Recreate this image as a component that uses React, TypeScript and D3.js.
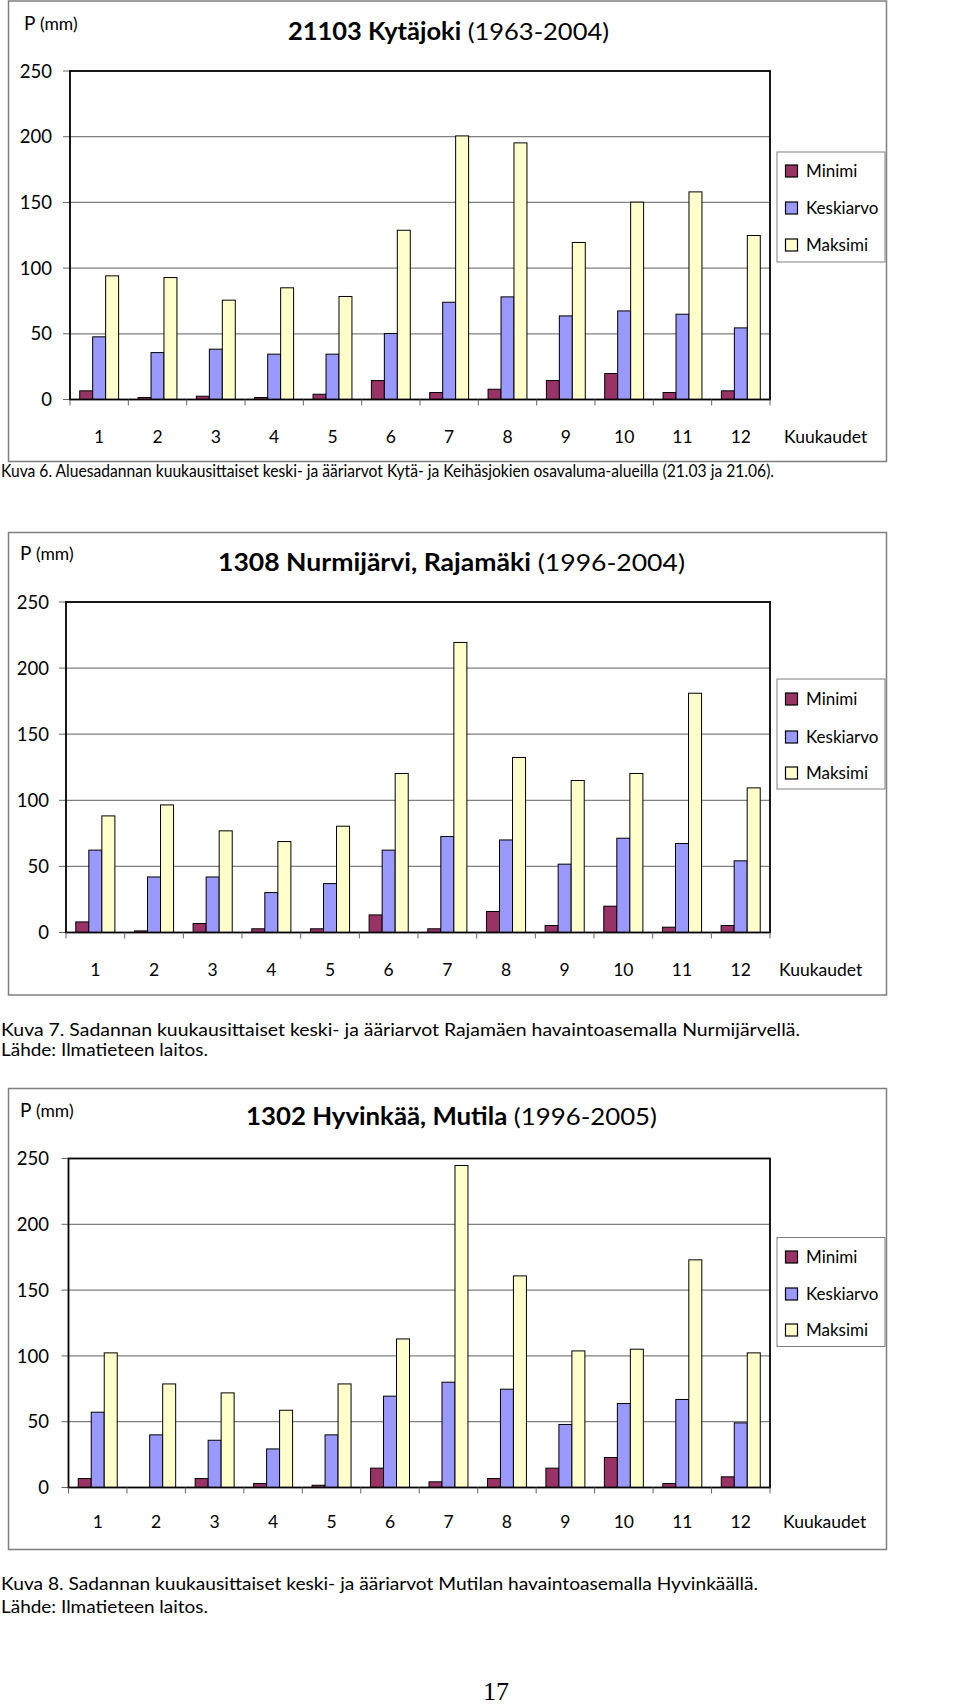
import React from "react";
import * as d3 from "d3";

// ---------- data ----------
const months = ["1", "2", "3", "4", "5", "6", "7", "8", "9", "10", "11", "12"];
const seriesNames = ["Minimi", "Keskiarvo", "Maksimi"];
const seriesColors = ["#993366", "#9999FF", "#FFFFCC"];
const yTicks = [0, 50, 100, 150, 200, 250];

const kytajokiMin = [6.6, 1.5, 2.5, 1.5, 4, 14.4, 5.3, 7.8, 14.4, 19.8, 5.3, 6.6];
const kytajokiMean = [47.7, 35.7, 38.3, 34.5, 34.5, 50.2, 74, 78.1, 63.6, 67.4, 64.9, 54.5];
const kytajokiMax = [94.1, 92.8, 75.6, 85, 78.4, 128.8, 200.6, 195.3, 119.5, 150.2, 158, 124.8];

const rajamakiMin = [8, 1.2, 6.8, 2.8, 2.8, 13.3, 2.8, 15.9, 5.3, 19.9, 4, 5.3];
const rajamakiMean = [62.3, 42, 42, 30.2, 37, 62.3, 72.6, 70, 51.7, 71.3, 67.3, 54.2];
const rajamakiMax = [88.2, 96.5, 76.9, 68.8, 80.4, 120.3, 219.4, 132.4, 115, 120.3, 181, 109.4];

const mutilaMin = [6.8, 0, 6.8, 3, 1.7, 14.7, 4.3, 6.8, 14.7, 22.8, 3, 8.1];
const mutilaMean = [57.2, 40, 35.9, 29.3, 40, 69.4, 80, 74.7, 47.9, 63.8, 66.9, 49.1];
const mutilaMax = [102.3, 78.7, 71.9, 58.7, 78.7, 112.9, 244.7, 160.8, 103.8, 105.1, 173, 102.3];

const titleBold = ["21103 Kytäjoki", "1308 Nurmijärvi, Rajamäki", "1302 Hyvinkää, Mutila"];
const titlePeriod = ["(1963-2004)", "(1996-2004)", "(1996-2005)"];
const yUnitMain = "P";
const yUnitSmall = "(mm)";
const xAxisName = "Kuukaudet";

const captions = [
  ["Kuva 6. Aluesadannan kuukausittaiset keski- ja ääriarvot Kytä- ja Keihäsjokien osavaluma-alueilla (21.03 ja 21.06)."],
  ["Kuva 7. Sadannan kuukausittaiset keski- ja ääriarvot Rajamäen havaintoasemalla Nurmijärvellä.", "Lähde: Ilmatieteen laitos."],
  ["Kuva 8. Sadannan kuukausittaiset keski- ja ääriarvot Mutilan havaintoasemalla Hyvinkäällä.", "Lähde: Ilmatieteen laitos."],
];
const pageNumber = "17";

// ---------- layout ----------
const FONT = "Lato, 'Open Sans', sans-serif";

type Layout = {
  frame: { x: number; y: number; w: number; h: number };
  plot: { x: number; y: number; w: number; h: number };
  yLabelRight: number;
  unitX: number;
  unitBase: number;
  titleX: number;
  titleW: number;
  titleBase: number;
  legend: { x: number; y: number; w: number; h: number; rows: number[] };
  xLabelY: number;
  axisNameX: number;
  captionBase: number[];
  captionW: number[];
  captionSize: number;
};

const layouts: Layout[] = [
  {
    frame: { x: 8.5, y: 1, w: 878, h: 460.5 },
    plot: { x: 70, y: 71, w: 700, h: 328.5 },
    yLabelRight: 52,
    unitX: 24,
    unitBase: 30,
    titleX: 288,
    titleW: 321,
    titleBase: 40,
    legend: { x: 777, y: 152, w: 108, h: 110, rows: [171, 208, 245] },
    xLabelY: 437,
    axisNameX: 784,
    captionBase: [477],
    captionW: [773],
    captionSize: 16.5,
  },
  {
    frame: { x: 8.5, y: 532.5, w: 878, h: 462.5 },
    plot: { x: 66, y: 602, w: 704, h: 330.5 },
    yLabelRight: 49,
    unitX: 20,
    unitBase: 560,
    titleX: 218,
    titleW: 467,
    titleBase: 571,
    legend: { x: 777, y: 679, w: 108, h: 110, rows: [699, 737, 773] },
    xLabelY: 970,
    axisNameX: 779,
    captionBase: [1035.5, 1056],
    captionW: [799, 207],
    captionSize: 17,
  },
  {
    frame: { x: 8.5, y: 1088.5, w: 878, h: 461 },
    plot: { x: 68.5, y: 1158.5, w: 701.5, h: 329 },
    yLabelRight: 49,
    unitX: 20,
    unitBase: 1117,
    titleX: 246,
    titleW: 411,
    titleBase: 1125,
    legend: { x: 777, y: 1237.5, w: 108, h: 109, rows: [1257, 1294, 1330] },
    xLabelY: 1522,
    axisNameX: 783,
    captionBase: [1589.5, 1613],
    captionW: [757, 207],
    captionSize: 17,
  },
];

const chartSeries = [
  [kytajokiMin, kytajokiMean, kytajokiMax],
  [rajamakiMin, rajamakiMean, rajamakiMax],
  [mutilaMin, mutilaMean, mutilaMax],
];

function Chart({ idx }: { idx: number }) {
  const L = layouts[idx];
  const series = chartSeries[idx];
  const { plot } = L;
  const y = d3.scaleLinear().domain([0, 250]).range([plot.y + plot.h, plot.y]);
  const x0 = d3
    .scaleBand<string>()
    .domain(months)
    .range([plot.x, plot.x + plot.w])
    .paddingInner(1 / 3)
    .paddingOuter(1 / 6);
  const x1 = d3.scaleBand<string>().domain(seriesNames).range([0, x0.bandwidth()]);
  const step = x0.step();
  const bottom = plot.y + plot.h;

  return (
    <g>
      {/* outer frame */}
      <rect x={L.frame.x} y={L.frame.y} width={L.frame.w} height={L.frame.h} fill="#fff" stroke="#7f7f7f" strokeWidth={1.5} />
      {/* unit */}
      <text x={L.unitX} y={L.unitBase} fontFamily={FONT} fontSize={19} fill="#000">
        {yUnitMain}
        <tspan fontSize={17.5}> {yUnitSmall}</tspan>
      </text>
      {/* title */}
      <text
        x={L.titleX}
        y={L.titleBase}
        textLength={L.titleW}
        lengthAdjust="spacingAndGlyphs"
        fontFamily={FONT}
        fontSize={24}
        fill="#000"
      >
        <tspan fontWeight="bold">{titleBold[idx]}</tspan>
        <tspan> {titlePeriod[idx]}</tspan>
      </text>
      {/* gridlines */}
      {yTicks.filter((t) => t > 0 && t < 250).map((t) => (
        <line key={"g" + t} x1={plot.x} x2={plot.x + plot.w} y1={y(t)} y2={y(t)} stroke="#808080" strokeWidth={1.2} />
      ))}
      {/* y ticks and labels */}
      {yTicks.map((t) => (
        <g key={"yt" + t}>
          <line x1={plot.x - 7} x2={plot.x} y1={y(t)} y2={y(t)} stroke="#666" strokeWidth={1} />
          <text x={L.yLabelRight} y={y(t)} dy="0.36em" textAnchor="end" fontFamily={FONT} fontSize={18.5} fill="#000">
            {t}
          </text>
        </g>
      ))}
      {/* bars */}
      {months.map((m, i) => (
        <g key={"m" + m}>
          {seriesNames.map((s, si) => {
            const v = series[si][i];
            if (!(v > 0)) return null;
            return (
              <rect
                key={s}
                x={(x0(m) as number) + (x1(s) as number)}
                y={y(v)}
                width={x1.bandwidth()}
                height={bottom - y(v)}
                fill={seriesColors[si]}
                stroke="#000"
                strokeWidth={1}
              />
            );
          })}
        </g>
      ))}
      {/* plot border */}
      <rect x={plot.x} y={plot.y} width={plot.w} height={plot.h} fill="none" stroke="#000" strokeWidth={1.8} />
      {/* x ticks */}
      {d3.range(months.length + 1).map((k) => (
        <line key={"xt" + k} x1={plot.x + k * step} x2={plot.x + k * step} y1={bottom} y2={bottom + 6} stroke="#666" strokeWidth={1} />
      ))}
      {/* x labels */}
      {months.map((m) => (
        <text key={"xl" + m} x={(x0(m) as number) + x0.bandwidth() / 2} y={L.xLabelY} dy="0.36em" textAnchor="middle" fontFamily={FONT} fontSize={17.5} fill="#000">
          {m}
        </text>
      ))}
      <text x={L.axisNameX} y={L.xLabelY} dy="0.36em" fontFamily={FONT} fontSize={17.5} fill="#000">
        {xAxisName}
      </text>
      {/* legend */}
      <rect x={L.legend.x} y={L.legend.y} width={L.legend.w} height={L.legend.h} fill="#fff" stroke="#808080" strokeWidth={1} />
      {seriesNames.map((s, si) => (
        <g key={"lg" + s}>
          <rect x={L.legend.x + 8.5} y={L.legend.rows[si] - 6} width={12} height={12} fill={seriesColors[si]} stroke="#000" strokeWidth={1.2} />
          <text x={L.legend.x + 29} y={L.legend.rows[si]} dy="0.36em" fontFamily={FONT} fontSize={17} fill="#000">
            {s}
          </text>
        </g>
      ))}
      {/* captions */}
      {captions[idx].map((c, ci) => (
        <text
          key={"c" + ci}
          x={1}
          y={L.captionBase[ci]}
          textLength={L.captionW[ci]}
          lengthAdjust="spacingAndGlyphs"
          fontFamily={FONT}
          fontSize={L.captionSize}
          fill="#000"
        >
          {c}
        </text>
      ))}
    </g>
  );
}

export default function App() {
  return (
    <svg
      width={960}
      height={1705}
      viewBox="0 0 960 1705"
      style={{ position: "absolute", left: 0, top: 0, background: "#fff" }}
    >
      <rect x={0} y={0} width={960} height={1705} fill="#fff" />
      {[0, 1, 2].map((i) => (
        <Chart key={i} idx={i} />
      ))}
      <text x={496} y={1700} textAnchor="middle" fontFamily="'Liberation Serif', 'DejaVu Serif', serif" fontSize={26} fill="#000">
        {pageNumber}
      </text>
    </svg>
  );
}
